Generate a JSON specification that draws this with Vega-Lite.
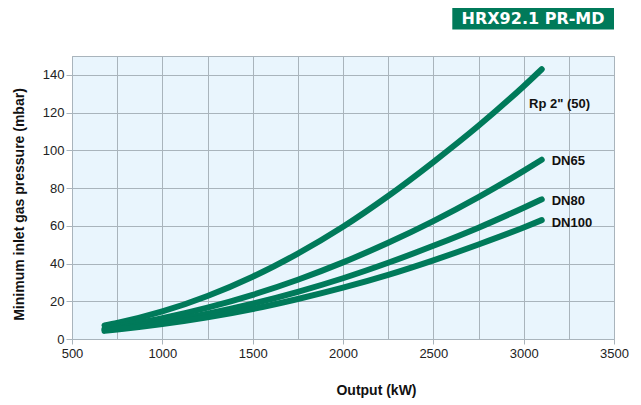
{
  "$schema": "https://vega.github.io/schema/vega-lite/v6.json",
  "autosize": {"type": "none"},
  "width": 542,
  "height": 283,
  "padding": {"left": 72, "top": 56, "right": 27, "bottom": 66},
  "background": "white",
  "config": {
    "view": {"fill": "#e9f5fd", "stroke": "#a9b4bc", "strokeWidth": 1},
    "font": "Liberation Sans",
    "axis": {
      "labelFont": "Liberation Sans",
      "titleFont": "Liberation Sans",
      "labelFontSize": 13,
      "labelColor": "#222222",
      "titleFontSize": 14,
      "titleFontWeight": "bold",
      "titleColor": "#111111",
      "gridColor": "#a9b4bc",
      "gridOpacity": 1,
      "gridWidth": 1,
      "domainColor": "#a9b4bc",
      "tickColor": "#a9b4bc"
    }
  },
  "datasets": {
    "curves": [
      {"series": "Rp2", "output": 680, "pressure": 7.2},
      {"series": "Rp2", "output": 750, "pressure": 8.5},
      {"series": "Rp2", "output": 1000, "pressure": 14.6},
      {"series": "Rp2", "output": 1250, "pressure": 22.8},
      {"series": "Rp2", "output": 1500, "pressure": 33.0},
      {"series": "Rp2", "output": 1750, "pressure": 45.3},
      {"series": "Rp2", "output": 2000, "pressure": 59.5},
      {"series": "Rp2", "output": 2250, "pressure": 75.8},
      {"series": "Rp2", "output": 2500, "pressure": 93.8},
      {"series": "Rp2", "output": 2750, "pressure": 113.0},
      {"series": "Rp2", "output": 3000, "pressure": 134.0},
      {"series": "Rp2", "output": 3100, "pressure": 143.0},
      {"series": "DN65", "output": 680, "pressure": 5.5},
      {"series": "DN65", "output": 750, "pressure": 6.7},
      {"series": "DN65", "output": 1000, "pressure": 11.0},
      {"series": "DN65", "output": 1250, "pressure": 16.6},
      {"series": "DN65", "output": 1500, "pressure": 23.4},
      {"series": "DN65", "output": 1750, "pressure": 31.4},
      {"series": "DN65", "output": 2000, "pressure": 40.6},
      {"series": "DN65", "output": 2250, "pressure": 51.0},
      {"series": "DN65", "output": 2500, "pressure": 62.5},
      {"series": "DN65", "output": 2750, "pressure": 75.2},
      {"series": "DN65", "output": 3000, "pressure": 89.1},
      {"series": "DN65", "output": 3100, "pressure": 95.0},
      {"series": "DN80", "output": 680, "pressure": 4.8},
      {"series": "DN80", "output": 750, "pressure": 5.6},
      {"series": "DN80", "output": 1000, "pressure": 9.0},
      {"series": "DN80", "output": 1250, "pressure": 13.4},
      {"series": "DN80", "output": 1500, "pressure": 18.7},
      {"series": "DN80", "output": 1750, "pressure": 25.0},
      {"series": "DN80", "output": 2000, "pressure": 32.2},
      {"series": "DN80", "output": 2250, "pressure": 40.4},
      {"series": "DN80", "output": 2500, "pressure": 49.4},
      {"series": "DN80", "output": 2750, "pressure": 59.0},
      {"series": "DN80", "output": 3000, "pressure": 69.6},
      {"series": "DN80", "output": 3100, "pressure": 74.0},
      {"series": "DN100", "output": 680, "pressure": 4.3},
      {"series": "DN100", "output": 750, "pressure": 5.0},
      {"series": "DN100", "output": 1000, "pressure": 7.9},
      {"series": "DN100", "output": 1250, "pressure": 11.5},
      {"series": "DN100", "output": 1500, "pressure": 15.9},
      {"series": "DN100", "output": 1750, "pressure": 21.2},
      {"series": "DN100", "output": 2000, "pressure": 27.2},
      {"series": "DN100", "output": 2250, "pressure": 34.0},
      {"series": "DN100", "output": 2500, "pressure": 41.7},
      {"series": "DN100", "output": 2750, "pressure": 50.1},
      {"series": "DN100", "output": 3000, "pressure": 59.1},
      {"series": "DN100", "output": 3100, "pressure": 63.0}
    ],
    "labels": [
      {"label": "Rp 2\" (50)", "output": 3030, "pressure": 124.5},
      {"label": "DN65", "output": 3155, "pressure": 94.5},
      {"label": "DN80", "output": 3155, "pressure": 73.3},
      {"label": "DN100", "output": 3155, "pressure": 61.7}
    ],
    "badge": [
      {"text": "HRX92.1 PR-MD", "x1": 2605, "x2": 3500, "y1": 164, "y2": 175.5, "xc": 3052, "yc": 169.8}
    ]
  },
  "layer": [
    {
      "data": {"name": "curves"},
      "mark": {"type": "line", "color": "#007a5a", "strokeWidth": 6, "strokeCap": "round", "strokeJoin": "round", "interpolate": "monotone"},
      "encoding": {
        "x": {
          "field": "output", "type": "quantitative",
          "scale": {"domain": [500, 3500], "nice": false, "zero": false},
          "axis": {
            "title": "Output (kW)",
            "values": [500, 750, 1000, 1250, 1500, 1750, 2000, 2250, 2500, 2750, 3000, 3250, 3500],
            "labelExpr": "datum.value % 500 === 0 ? datum.label : ''",
            "format": "d",
            "tickSize": 5,
            "tickOpacity": {"condition": {"test": "datum.value % 500 === 0", "value": 1}, "value": 0},
            "labelPadding": 3,
            "titlePadding": 23,
            "titleX": 304,
            "labelFlush": false,
            "labelOverlap": false
          }
        },
        "y": {
          "field": "pressure", "type": "quantitative",
          "scale": {"domain": [0, 150], "nice": false},
          "axis": {
            "title": "Minimum inlet gas pressure (mbar)",
            "values": [0, 10, 20, 30, 40, 50, 60, 70, 80, 90, 100, 110, 120, 130, 140, 150],
            "labelExpr": "datum.value % 20 === 0 ? datum.label : ''",
            "tickSize": 6,
            "tickOpacity": {"condition": {"test": "datum.value % 20 === 0", "value": 1}, "value": 0},
            "labelPadding": 2,
            "titlePadding": 16,
            "titleY": 148,
            "labelFlush": false,
            "labelOverlap": false
          }
        },
        "detail": {"field": "series", "type": "nominal"}
      }
    },
    {
      "data": {"name": "labels"},
      "mark": {"type": "text", "align": "left", "baseline": "middle", "fontWeight": "bold", "fontSize": 13, "color": "#111111", "font": "Liberation Sans", "clip": false},
      "encoding": {
        "x": {"field": "output", "type": "quantitative"},
        "y": {"field": "pressure", "type": "quantitative"},
        "text": {"field": "label"}
      }
    },
    {
      "data": {"name": "badge"},
      "mark": {"type": "rect", "color": "#007a5a", "clip": false},
      "encoding": {
        "x": {"field": "x1", "type": "quantitative"},
        "x2": {"field": "x2"},
        "y": {"field": "y1", "type": "quantitative"},
        "y2": {"field": "y2"}
      }
    },
    {
      "data": {"name": "badge"},
      "mark": {"type": "text", "align": "center", "baseline": "middle", "fontWeight": "bold", "fontSize": 16, "color": "white", "font": "DejaVu Sans", "clip": false},
      "encoding": {
        "x": {"field": "xc", "type": "quantitative"},
        "y": {"field": "yc", "type": "quantitative"},
        "text": {"field": "text"}
      }
    }
  ]
}
